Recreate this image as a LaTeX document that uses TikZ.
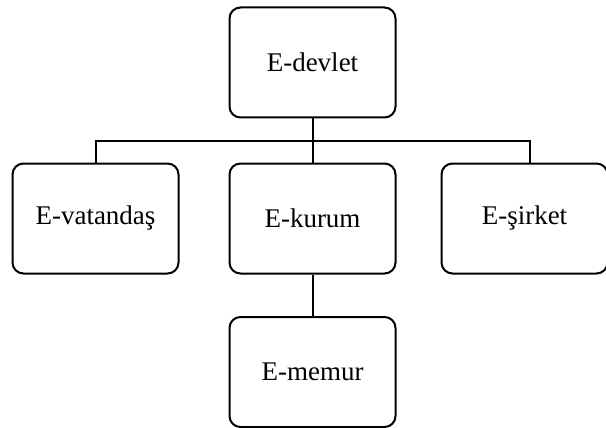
\documentclass[tikz,border=0pt]{standalone}
\usepackage{fontspec}
\setmainfont{Liberation Serif}
\usetikzlibrary{calc}

\tikzset{
  birim/.style={draw, line width=2pt, rounded corners=11pt,
    minimum width=166pt, minimum height=110pt, inner sep=0pt,
    font=\fontsize{27}{31}\selectfont},
  bag/.style={line width=2pt}
}

\begin{document}
\begin{tikzpicture}[x=1pt,y=-1pt]
\useasboundingbox (0,0) rectangle (606,428);
% kutular
\node[birim] (devlet)   at (312.5,62.5)  {E-devlet};
\node[birim] (vatandas) at (95.5,218.5)  {E-vatanda\c{s}};
\node[birim] (kurum)    at (312.5,218.5) {E-kurum};
\node[birim] (sirket)   at (524.5,218.5) {E-\c{s}irket};
\node[birim] (memur)    at (312.5,372)   {E-memur};
% baglantilar
\coordinate (hat) at (312.5,141);
\coordinate (sag) at ($(sirket.north)+(5.5,0)$);
\draw[bag] (devlet) -- (kurum);
\draw[bag] (vatandas.north) |- (hat) -| (sag);
\draw[bag] (kurum) -- (memur);
\end{tikzpicture}
\end{document}
